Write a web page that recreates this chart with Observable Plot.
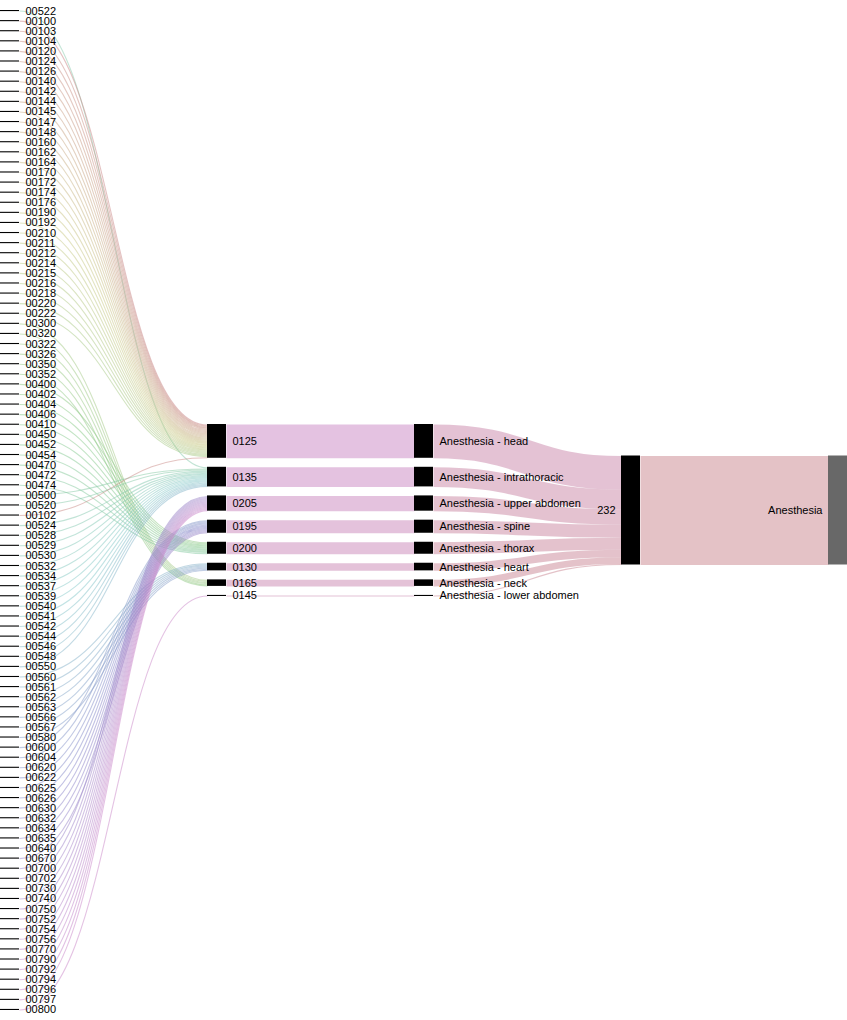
<!DOCTYPE html>
<html>
<head>
<meta charset="utf-8">
<script src="https://cdn.jsdelivr.net/npm/d3@7"></script>
<script src="https://cdn.jsdelivr.net/npm/@observablehq/plot@0.6"></script>
<style>
  body { margin: 0; background: #fff; }
</style>
</head>
<body>
<div id="chart"></div>
<script>
// procedure codes, in the order they appear down the left column
const codes = [
  "00522","00100","00103","00104","00120","00124","00126","00140","00142","00144",
  "00145","00147","00148","00160","00162","00164","00170","00172","00174","00176",
  "00190","00192","00210","00211","00212","00214","00215","00216","00218","00220",
  "00222","00300","00320","00322","00326","00350","00352","00400","00402","00404",
  "00406","00410","00450","00452","00454","00470","00472","00474","00500","00520",
  "00102","00524","00528","00529","00530","00532","00534","00537","00539","00540",
  "00541","00542","00544","00546","00548","00550","00560","00561","00562","00563",
  "00566","00567","00580","00600","00604","00620","00622","00625","00626","00630",
  "00632","00634","00635","00640","00670","00700","00702","00730","00740","00750",
  "00752","00754","00756","00770","00790","00792","00794","00796","00797","00800"
]
// group each code flows into
const codeGroups = [
  "0135","0125","0125","0125","0125","0125","0125","0125","0125","0125",
  "0125","0125","0125","0125","0125","0125","0125","0125","0125","0125",
  "0125","0125","0125","0125","0125","0125","0125","0125","0125","0125",
  "0125","0165","0165","0165","0165","0165","0165","0200","0200","0200",
  "0200","0200","0200","0200","0200","0200","0200","0200","0135","0135",
  "0125","0135","0135","0135","0135","0135","0135","0135","0135","0135",
  "0135","0135","0135","0135","0135","0135","0130","0130","0130","0130",
  "0130","0130","0130","0195","0195","0195","0195","0195","0195","0195",
  "0195","0195","0195","0195","0195","0205","0205","0205","0205","0205",
  "0205","0205","0205","0205","0205","0205","0205","0205","0205","0145"
]
const codeValues = [
  1,1,1,1,1,1,1,1,1,1, 1,1,1,1,1,1,1,1,1,1,
  1,1,1,1,1,1,1,1,1,1, 1,1,1,1,1,1,1,1,1,1,
  1,1,1,1,1,1,1,1,1,1, 1,1,1,1,1,1,1,1,1,1,
  1,1,1,1,1,1,1,1,1,1, 1,1,1,1,1,1,1,1,1,1,
  1,1,1,1,1,1,1,1,1,1, 1,1,1,1,1,1,1,1,1,1
]
const groups = ["0125","0135","0205","0195","0200","0130","0165","0145"]
const groupNames = [
  "Anesthesia - head","Anesthesia - intrathoracic","Anesthesia - upper abdomen",
  "Anesthesia - spine","Anesthesia - thorax","Anesthesia - heart",
  "Anesthesia - neck","Anesthesia - lower abdomen"
]
const section = "232"
const category = "Anesthesia"

const W = 847, H = 1020
const nodeWidthPx = 19, nodePadPx = 9, marginPx = 10

// --- nodes and links ---
var nodes = []
var byName = new Map()
function addNode(name, col) {
  var n = {name: name, col: col, sourceLinks: [], targetLinks: []}
  nodes.push(n)
  byName.set(name, n)
}
codes.forEach(c => addNode(c, 0))
groups.forEach(g => addNode(g, 1))
groupNames.forEach(g => addNode(g, 2))
addNode(section, 3)
addNode(category, 4)

var links = []
function addLink(s, t, v) {
  var l = {source: byName.get(s), target: byName.get(t), value: v}
  l.source.sourceLinks.push(l)
  l.target.targetLinks.push(l)
  links.push(l)
}
codes.forEach((c, i) => addLink(c, codeGroups[i], codeValues[i]))
groups.forEach((g, i) => addLink(g, groupNames[i], d3.sum(byName.get(g).targetLinks, l => l.value)))
groupNames.forEach(g => addLink(g, section, d3.sum(byName.get(g).targetLinks, l => l.value)))
addLink(section, category, d3.sum(byName.get(section).targetLinks, l => l.value))

nodes.forEach(n => {
  n.value = Math.max(d3.sum(n.sourceLinks, l => l.value), d3.sum(n.targetLinks, l => l.value))
})

// --- layout (in value units, scaled by Plot) ---
var columns = d3.groups(nodes, n => n.col).map(d => d[1])
var ky = d3.min(columns, c => (H - 2 * marginPx - (c.length - 1) * nodePadPx) / d3.sum(c, n => n.value))
var padU = nodePadPx / ky
var totalU = H / ky
var nw = nodeWidthPx / ((W - nodeWidthPx) / 4)

columns.forEach(c => {
  var colH = d3.sum(c, n => n.value) + (c.length - 1) * padU
  var y = (totalU - colH) / 2
  c.forEach(n => {
    n.x0 = n.col
    n.x1 = n.col + nw
    n.y0 = y
    n.y1 = y + n.value
    y = n.y1 + padU
  })
})

nodes.forEach(n => {
  n.sourceLinks.sort((a, b) => a.target.y0 - b.target.y0)
  n.targetLinks.sort((a, b) => a.source.y0 - b.source.y0)
  var y = n.y0
  n.sourceLinks.forEach(l => { l.ys = y + l.value / 2; y += l.value })
  y = n.y0
  n.targetLinks.forEach(l => { l.yt = y + l.value / 2; y += l.value })
})

// rainbow colour per source node
var sortedCodes = codes.slice().sort()
var N = nodes.length
function rank(n) {
  return n.col === 0 ? sortedCodes.indexOf(n.name) : nodes.indexOf(n)
}
links.forEach(l => {
  l.color = d3.hsl(rank(l.source) / N * 360, 0.39, 0.66).formatHex()
})

var font = "'Liberation Sans', Arial, Helvetica, sans-serif"

var chart = Plot.plot({
  width: W,
  height: H,
  margin: 0,
  x: {domain: [0, 4 + nw], axis: null},
  y: {domain: [0, totalU], range: [0, H], axis: null},
  style: {background: "white", fontFamily: font, fontSize: "11px"},
  marks: [
    Plot.link(links, {
      x1: d => d.source.x1,
      y1: "ys",
      x2: d => d.target.x0,
      y2: "yt",
      stroke: "color",
      strokeOpacity: 0.5,
      strokeWidth: d => Math.max(1, d.value * ky),
      curve: "bump-x"
    }),
    Plot.rect(nodes, {
      x1: "x0", x2: "x1", y1: "y0", y2: "y1",
      fill: d => d.name === category ? "#686868" : "black"
    }),
    Plot.text(nodes.filter(n => n.col < 2.5), {
      x: "x1",
      y: d => (d.y0 + d.y1) / 2,
      text: "name",
      textAnchor: "start",
      dx: 6,
      fontSize: 11,
      fill: "black"
    }),
    Plot.text(nodes.filter(n => n.col > 2.5), {
      x: "x0",
      y: d => (d.y0 + d.y1) / 2,
      text: "name",
      textAnchor: "end",
      dx: -6,
      fontSize: 11,
      fill: "black"
    })
  ]
})
d3.select('#chart').append(() => chart)
</script>
</body>
</html>
